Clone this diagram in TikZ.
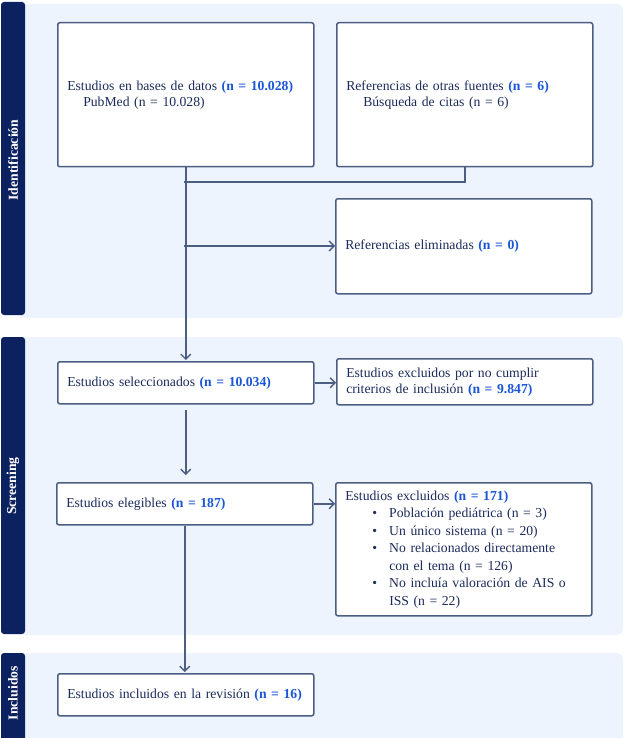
\documentclass[tikz,border=0pt]{standalone}
\usepackage{fontspec}
\setmainfont{Liberation Serif}
\usetikzlibrary{arrows.meta,calc}
\definecolor{navy}{HTML}{0B2160}
\definecolor{panelbg}{HTML}{EEF4FD}
\definecolor{edge}{HTML}{4C5E82}
\definecolor{txt}{HTML}{1C2B5C}
\definecolor{nblue}{HTML}{1A56D8}
\newcommand{\hl}[1]{\textbf{\color{nblue}#1}}
\newcommand{\itm}{\hspace*{27pt}\makebox[17pt][l]{\textbullet}}
\begin{document}
\begin{tikzpicture}[x=1pt,y=-1pt,
  panel/.style={fill=panelbg,draw=none,rounded corners=6pt},
  side/.style={fill=navy,draw=none,rounded corners=3pt},
  sidelabel/.style={rotate=90,text=white,font=\fontsize{13.7}{15}\selectfont\bfseries},
  box/.style={draw=edge,line width=1.5pt,fill=white,rounded corners=2pt,anchor=north west,
    inner xsep=9.5pt,inner ysep=0pt,text width=237pt,minimum width=256pt,
    align=left,text=txt,font=\fontsize{13.7}{16}\selectfont},
  conn/.style={draw=edge,line width=1.6pt},
  arr/.style={conn,-{Straight Barb[length=5pt,width=10pt,line width=1.4pt]}}]
\clip (0,0) rectangle (624,738);
\fill[white] (0,0) rectangle (624,738);
% panels
\path[panel] (20,4) rectangle (623,318);
\path[side] (1,2) rectangle (25,315);
\path[panel] (20,337) rectangle (623,635);
\path[side] (1,337) rectangle (25,634);
\path[panel] (20,653) rectangle (623,760);
\path[side] (1,653) rectangle (25,760);
\node[sidelabel] (l1) at (13,160) {Identificación};
\node[sidelabel] (l2) at (13,486) {Screening};
\node[sidelabel] (l3) at (13,693) {Incluidos};
% boxes
\node[box,minimum height=144pt] (A) at (57,22)
  {Estudios en bases de datos \hl{(n = 10.028)}\\\hspace*{16pt}PubMed (n = 10.028)};
\node[box,minimum height=144pt] (B) at (336,22)
  {Referencias de otras fuentes \hl{(n = 6)}\\\hspace*{17pt}Búsqueda de citas (n = 6)};
\node[box,minimum height=95pt] (C) at (335,198)
  {Referencias eliminadas \hl{(n = 0)}};
\node[box,minimum height=42pt] (D) at (57,361)
  {Estudios seleccionados \hl{(n = 10.034)}};
\node[box,minimum height=46pt] (E) at (336,358)
  {Estudios excluidos por no cumplir\\criterios de inclusión \hl{(n = 9.847)}};
\node[box,minimum height=42pt] (F) at (56,482)
  {Estudios elegibles \hl{(n = 187)}};
\node[box,minimum height=133pt,font=\fontsize{13.7}{17.5}\selectfont] (G) at (335,482)
  {Estudios excluidos \hl{(n = 171)}\\
   \itm Población pediátrica (n = 3)\\
   \itm Un único sistema (n = 20)\\
   \itm No relacionados directamente\\
   \hspace*{44pt}con el tema (n = 126)\\
   \itm No incluía valoración de AIS o\\
   \hspace*{44pt}ISS (n = 22)\\[-4pt]};
\node[box,minimum height=42pt] (H) at (57,673)
  {Estudios incluidos en la revisión \hl{(n = 16)}};
% connectors
\coordinate (j1) at (184,182);
\coordinate (j2) at (184,246);
\draw[conn] (B.south) |- (j1);
\draw[arr,shorten >=1pt] (A.south) -- (A.south |- D.north);
\draw[arr] (j2) -- (C.west |- j2);
\draw[arr] (D.east) -- (E.west |- D.east);
\draw[arr,shorten <=5pt,shorten >=7pt] (D.south) -- (D.south |- F.north);
\draw[arr] (F.east) -- (G.west |- F.east);
\draw[arr,shorten >=1pt] (F.south) -- (F.south |- H.north);
\end{tikzpicture}
\end{document}
